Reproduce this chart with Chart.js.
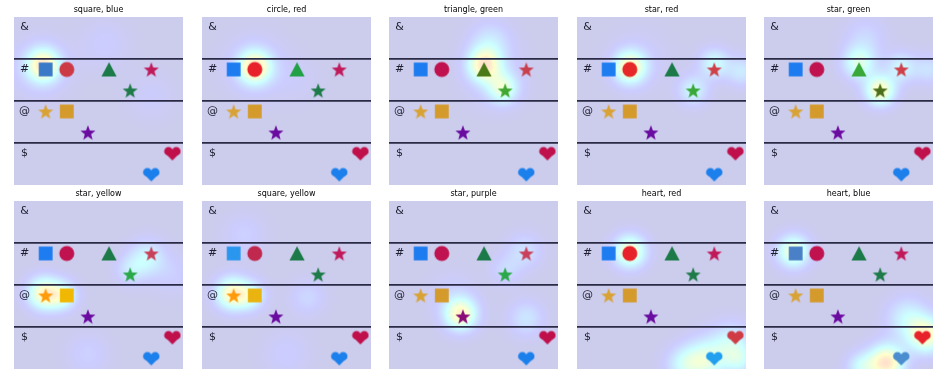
<!DOCTYPE html>
<html><head><meta charset="utf-8">
<script src="https://cdn.jsdelivr.net/npm/chart.js@4.4.1/dist/chart.umd.min.js"></script>
<style>
html,body{margin:0;padding:0;background:#fff;width:947px;height:379px;overflow:hidden;}
canvas{position:absolute;}
</style></head><body>
<script>
// ---------- data ----------
const panelTitles = ['square, blue','circle, red','triangle, green','star, red','star, green',
                     'star, yellow','square, yellow','star, purple','heart, red','heart, blue'];
const shapeKinds  = ['square','circle','triangle','star','star','star','square','star','heart','heart'];
const shapeColorNames = ['blue','red','green','red','green','yellow','yellow','purple','red','blue'];
const shapeX = [1.5, 2.5, 4.5, 6.5, 5.5, 1.5, 2.5, 3.5, 7.5, 6.5];
const shapeY = [2.5, 2.5, 2.5, 2.5, 3.5, 4.5, 4.5, 5.5, 6.5, 7.5];
const rowSymbols = ['&', '#', '@', '$'];
const symbolX = [0.5, 0.5, 0.5, 0.5];
const symbolY = [0.5, 2.5, 4.5, 6.5];
const dividerY = [2, 4, 6];
// attention blobs per panel: [x, y, strength, spread]
const heat1  = [[1.4,2.3,0.62,0.55],[1.2,2.4,0.14,1.0],[4.3,1.3,0.1,0.8],[6.5,3.8,0.08,0.8]];
const heat2  = [[2.5,2.4,0.63,0.55],[2.5,2.3,0.14,1.0],[4.5,3.0,0.06,0.8]];
const heat3  = [[4.5,2.3,0.6,0.55],[5.4,3.4,0.42,0.5],[4.8,1.2,0.22,0.7],[5.0,2.9,0.12,1.0]];
const heat4  = [[2.5,2.4,0.62,0.55],[6.5,2.2,0.34,0.5],[5.5,3.5,0.3,0.5],[7.8,2.6,0.24,0.5],[3.0,2.0,0.08,1.0]];
const heat5  = [[5.5,3.5,0.62,0.5],[4.5,2.2,0.42,0.55],[6.5,2.4,0.3,0.5],[7.8,2.5,0.2,0.5],[4.8,1.0,0.15,0.7]];
const heat6  = [[1.4,4.4,0.6,0.55],[2.3,4.5,0.4,0.5],[6.3,2.7,0.3,0.6],[5.5,3.3,0.2,0.5],[3.5,7.3,0.12,0.7],[7.5,3.5,0.1,0.7]];
const heat7  = [[1.4,4.4,0.6,0.55],[2.3,4.5,0.36,0.5],[5.0,4.6,0.15,0.6],[2.0,1.6,0.12,0.7],[4.0,7.3,0.1,0.8]];
const heat8  = [[3.4,5.4,0.62,0.55],[6.5,5.6,0.22,0.6],[6.4,2.4,0.2,0.6],[5.5,3.3,0.15,0.5],[3.0,4.5,0.1,0.8]];
const heat9  = [[2.5,2.4,0.6,0.55],[6.0,7.6,0.45,0.7],[7.3,6.8,0.32,0.7],[5.0,7.8,0.25,0.6],[7.7,7.6,0.25,0.5]];
const heat10 = [[1.4,2.4,0.55,0.55],[5.8,7.7,0.72,0.6],[7.7,6.4,0.6,0.6],[6.8,5.6,0.3,0.7],[4.6,7.9,0.3,0.5]];
const panelHeat = [heat1,heat2,heat3,heat4,heat5,heat6,heat7,heat8,heat9,heat10];

// ---------- styles ----------
const baseColors = ['#1c7cf0','#c0124e','#1c7a48','#c01a5a','#1e7a48','#d9a234','#d49b2c','#6a0ca0','#c0104c','#1c80ec'];
const panelTints = [
  {0:'#3a78c8',1:'#cc3a46'},
  {1:'#e8222a',2:'#22a048'},
  {2:'#4a7a18',3:'#c8404e',4:'#40a832'},
  {1:'#e62828',3:'#d04048',4:'#3aa838'},
  {2:'#3aa838',3:'#d0404a',4:'#4a6e1a'},
  {5:'#ff9a0a',6:'#f0b800',4:'#2aa84a',3:'#c8405a'},
  {0:'#2a96ee',1:'#c0284e',5:'#ff9a0a',6:'#eab410'},
  {7:'#8a0c78',4:'#2aa84a',3:'#c8405a'},
  {1:'#e8222a',8:'#d03c46',9:'#22a0f0'},
  {0:'#4a80c8',8:'#e8222a',9:'#4a8ed0'}
];
const A = 0.2;

function jet(v){
  const c = t => Math.max(0, Math.min(1, t));
  return [c(1.5-Math.abs(4*v-3)), c(1.5-Math.abs(4*v-2)), c(1.5-Math.abs(4*v-1))];
}

function makeIcon(kind, color){
  const cv = document.createElement('canvas');
  const S = 18; cv.width = S; cv.height = S;
  const c = cv.getContext('2d');
  c.fillStyle = color;
  const cx = S/2, cy = S/2;
  if (kind === 'square'){ c.fillRect(cx-6.9, cy-6.9, 13.8, 13.8); }
  else if (kind === 'circle'){ c.beginPath(); c.arc(cx, cy, 7.5, 0, Math.PI*2); c.fill(); }
  else if (kind === 'triangle'){ c.beginPath(); c.moveTo(cx, cy-7.2); c.lineTo(cx+7.6, cy+7); c.lineTo(cx-7.6, cy+7); c.closePath(); c.fill(); }
  else if (kind === 'star'){
    const R = 7.9, r = R*0.42, oy = cy + 0.75;
    c.beginPath();
    for (let k=0;k<10;k++){
      const ang = -Math.PI/2 + k*Math.PI/5, rad = k%2 ? r : R;
      const px = cx + rad*Math.cos(ang), py = oy + rad*Math.sin(ang);
      k ? c.lineTo(px,py) : c.moveTo(px,py);
    }
    c.closePath(); c.fill();
  } else if (kind === 'heart'){
    const top = cy-6.5, rr = 4.3;
    c.beginPath(); c.arc(cx-3.9, top+rr, rr, 0, Math.PI*2); c.fill();
    c.beginPath(); c.arc(cx+3.9, top+rr, rr, 0, Math.PI*2); c.fill();
    c.beginPath(); c.moveTo(cx-8.0, top+5.6); c.lineTo(cx+8.0, top+5.6); c.lineTo(cx, top+13.5); c.closePath(); c.fill();
  }
  return cv;
}

const heatPlugin = {
  id: 'heat',
  beforeDraw(chart, args, opts){
    const {ctx, chartArea, scales} = chart;
    const left = Math.round(chartArea.left), top = Math.round(chartArea.top);
    const w = Math.round(chartArea.right) - left, h = Math.round(chartArea.bottom) - top;
    const img = ctx.createImageData(w, h);
    const blobs = opts.blobs || [];
    for (let j=0;j<h;j++){
      const vy = scales.y.getValueForPixel(top+j+0.5);
      for (let i=0;i<w;i++){
        const vx = scales.x.getValueForPixel(left+i+0.5);
        let v = 0.03;
        for (const [bx,by,s,sg] of blobs){
          const dx = vx-bx, dy = vy-by;
          v += s*Math.exp(-(dx*dx+dy*dy)/(2*sg*sg));
        }
        v = Math.min(1, Math.max(0, v));
        const col = jet(v);
        const k = (j*w+i)*4;
        img.data[k]   = 255*(1-A) + col[0]*255*A;
        img.data[k+1] = 255*(1-A) + col[1]*255*A;
        img.data[k+2] = 255*(1-A) + col[2]*255*A;
        img.data[k+3] = 255;
      }
    }
    ctx.putImageData(img, left, top);
  }
};

const symbolPlugin = {
  id: 'symbols',
  afterDatasetsDraw(chart){
    const {ctx, scales} = chart;
    ctx.save();
    ctx.fillStyle = '#1e1e30';
    ctx.font = '11px "DejaVu Sans"';
    ctx.textAlign = 'center';
    ctx.textBaseline = 'middle';
    rowSymbols.forEach((s, i) => {
      ctx.fillText(s, scales.x.getPixelForValue(symbolX[i]), scales.y.getPixelForValue(symbolY[i]));
    });
    ctx.restore();
  }
};

const lefts = [14, 202, 389, 577, 764];
const tops = [17, 201];
const PW = 169, PH = 168, TH = 17;

panelTitles.forEach((title, p) => {
  const cv = document.createElement('canvas');
  cv.width = PW; cv.height = PH + TH;
  cv.style.left = lefts[p % 5] + 'px';
  cv.style.top = (tops[Math.floor(p/5)] - TH) + 'px';
  cv.style.width = PW + 'px'; cv.style.height = (PH+TH) + 'px';
  document.body.appendChild(cv);
  const tint = panelTints[p];
  const icons = shapeKinds.map((k, i) => makeIcon(k, tint[i] || baseColors[i]));
  new Chart(cv, {
    type: 'scatter',
    data: { datasets: [{
      label: title,
      data: shapeX.map((x, i) => ({x, y: shapeY[i]})),
      pointStyle: icons,
      pointRadius: 8,
      clip: false
    }]},
    options: {
      responsive: false,
      animation: false,
      events: [],
      layout: { padding: 0, autoPadding: false },
      plugins: {
        legend: { display: false },
        tooltip: { enabled: false },
        title: { display: true, text: title, color: '#000',
                 font: { family: 'DejaVu Sans', size: 8, weight: 'normal' },
                 padding: { top: 5, bottom: 2.4 } },
        heat: { blobs: panelHeat[p] }
      },
      scales: {
        x: { type: 'linear', min: 0, max: 8, display: false },
        y: { type: 'linear', min: 0, max: 8, reverse: true,
             afterBuildTicks: ax => { ax.ticks = dividerY.map(v => ({value: v})); },
             ticks: { display: false },
             border: { display: false },
             grid: { drawTicks: false, color: '#2a2a44', lineWidth: 1.8 } }
      }
    },
    plugins: [heatPlugin, symbolPlugin]
  });
});
</script>
</body></html>
